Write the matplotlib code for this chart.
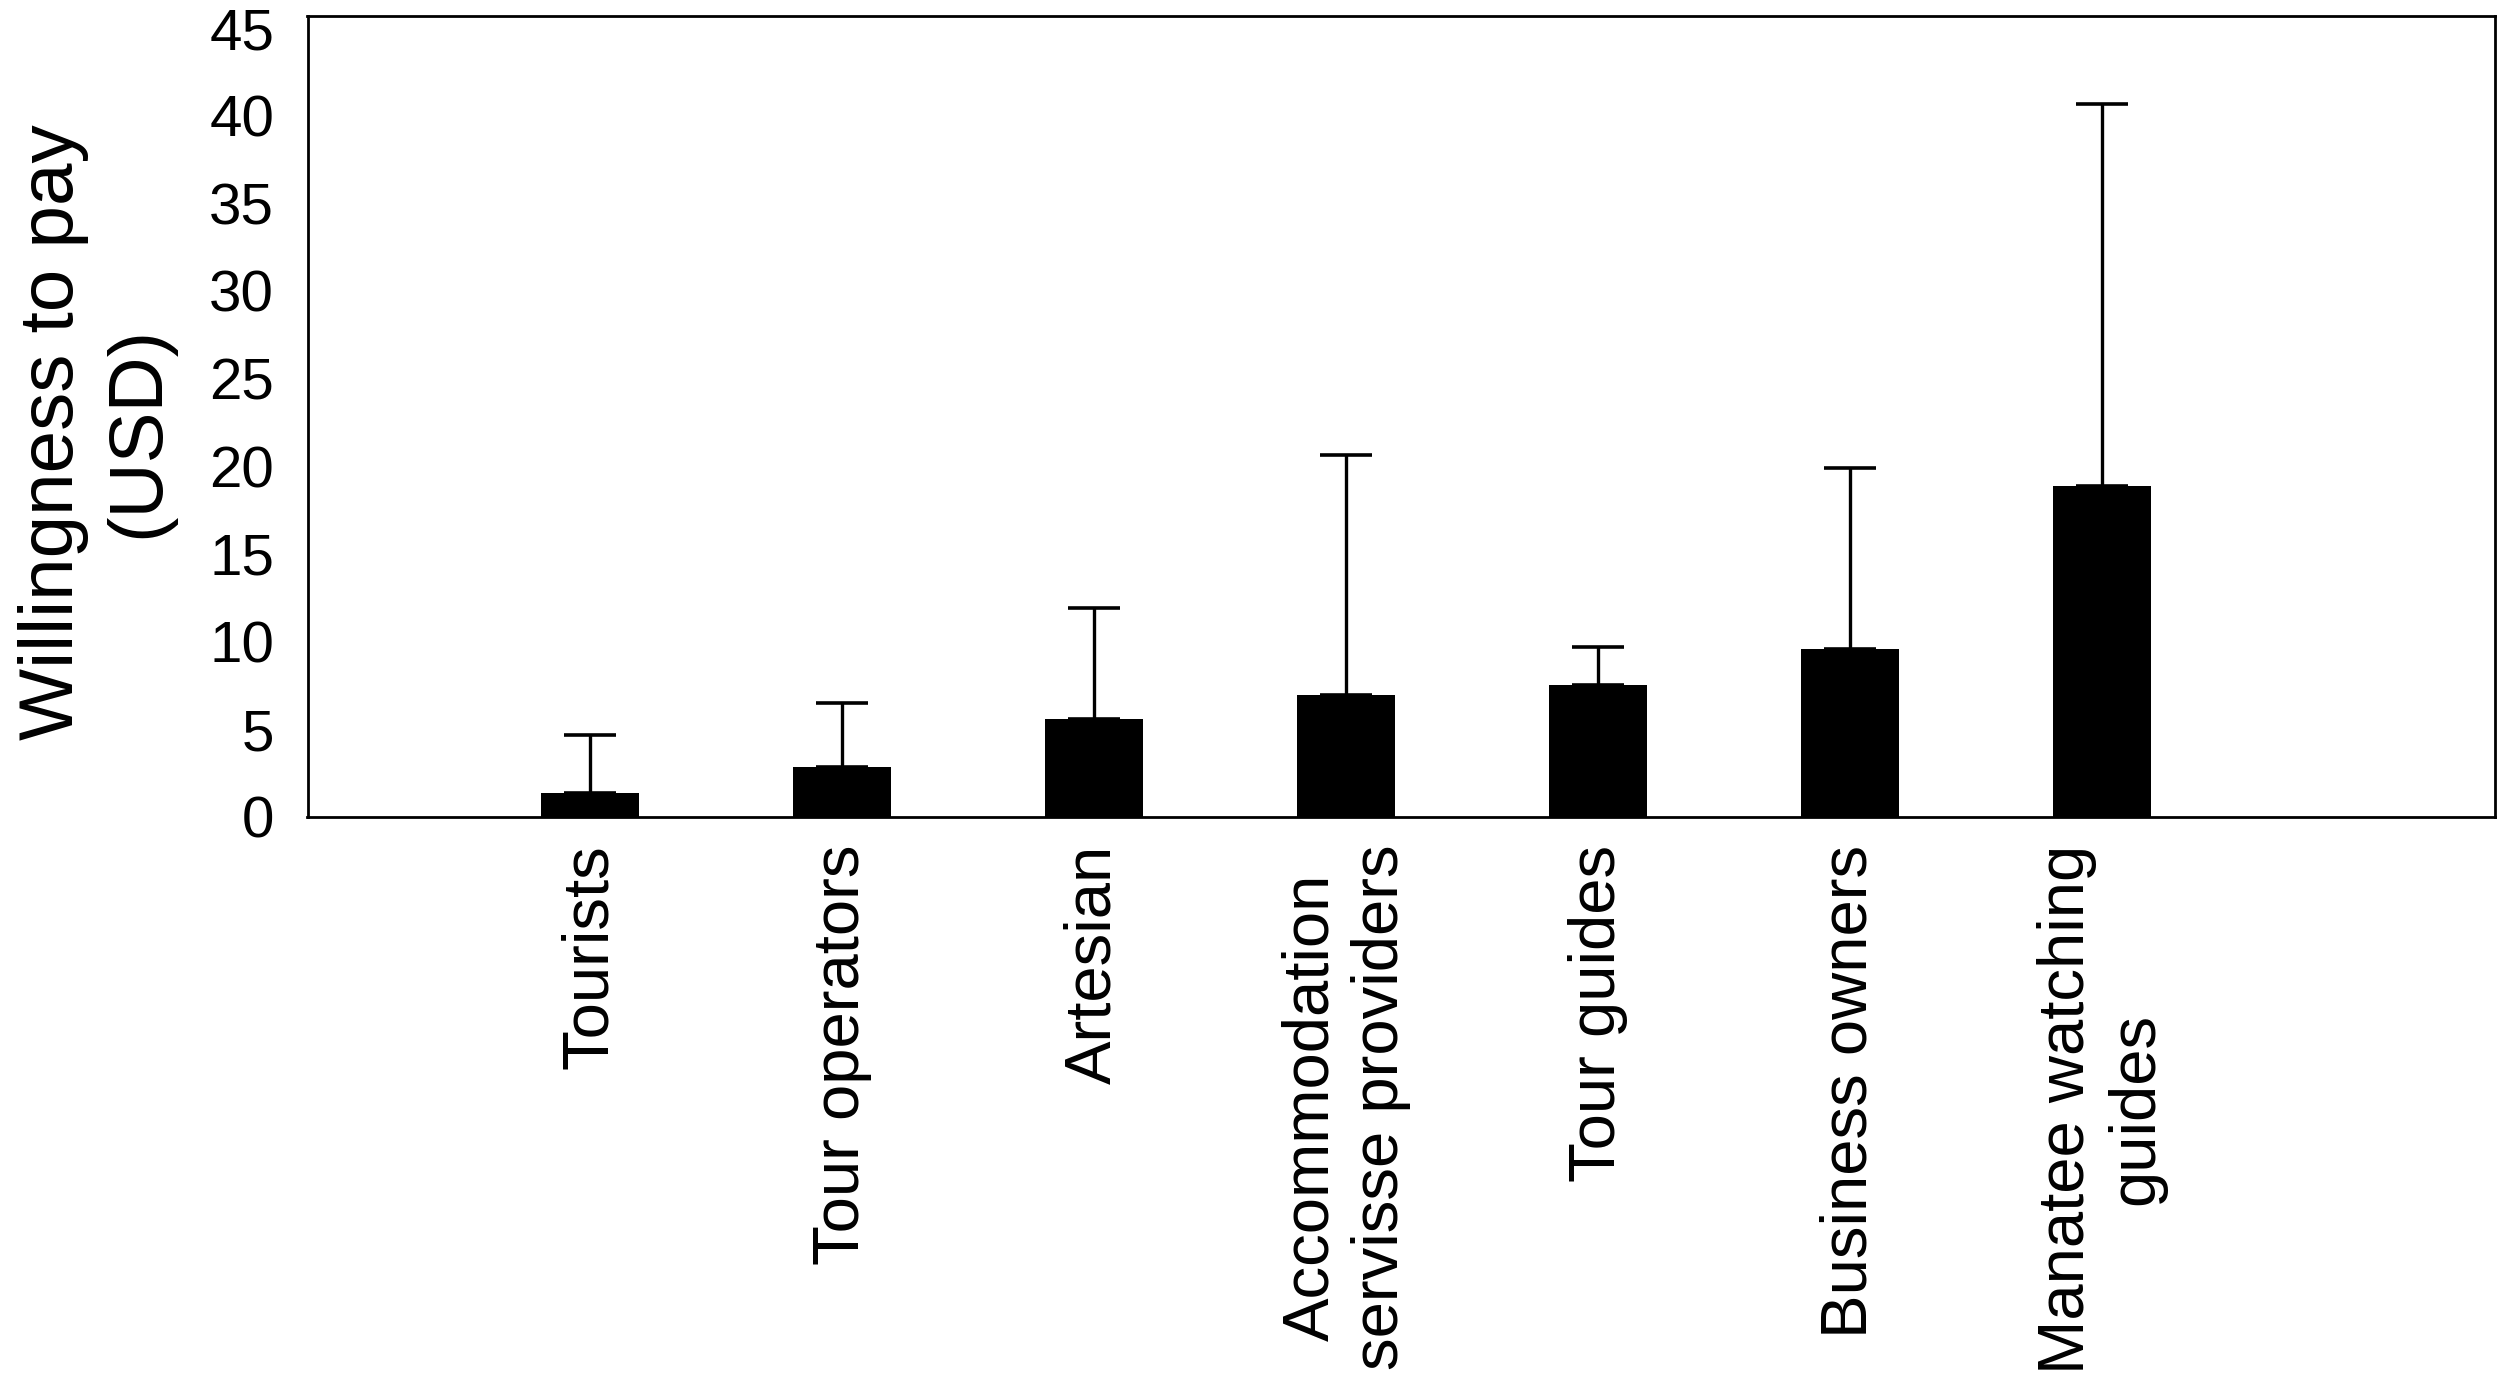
# Drittanbieter-Bibliotheken
import matplotlib
matplotlib.use("Agg")
import matplotlib.pyplot as plt
import numpy as np

# Daten
categories = ["Tourists", "Tour operators", "Artesian",
              "Accommodation\nservisse providers", "Tour guides",
              "Business owners", "Manatee watching\nguides"]
wtp_mean = [1.35, 2.85, 5.6, 6.95, 7.5, 9.55, 18.85]
wtp_upper = [4.65, 6.5, 11.9, 20.65, 9.7, 19.9, 40.65]
y_ticks = [0, 5, 10, 15, 20, 25, 30, 35, 40, 45]


def plot_wtp(output_file):
    """
        Balkendiagramm der Zahlungsbereitschaft mit oberen Fehlerbalken

        Args:
            output_file (str): Pfad der Ausgabedatei

        Returns:
            None
    """
    plt.rcParams['font.family'] = ['Liberation Sans', 'DejaVu Sans']

    fig = plt.figure(figsize=(25, 13.75), dpi=100)
    ax = fig.add_axes([0.123, 0.406, 0.875, 0.5825])

    x = np.arange(len(categories))
    mean = np.array(wtp_mean)
    err = np.array(wtp_upper) - mean

    # Fehlerbalken hinter den Balken, damit die untere Kappe verdeckt wird
    ax.errorbar(x, mean, yerr=[np.zeros_like(err), err], fmt='none',
                ecolor='black', elinewidth=2.4, capsize=18.5, capthick=2.6,
                zorder=1)
    ax.bar(x, mean, width=0.39, color='black', zorder=2)

    # Achsen einstellen
    ax.set_xlim(-1.12, 7.56)
    ax.set_ylim(0, 45.7)
    ax.set_yticks(y_ticks)
    ax.set_yticklabels([str(t) for t in y_ticks], fontsize=42)
    ax.set_xticks(x)
    ax.set_xticklabels(categories, fontsize=47, rotation=90,
                       ha='center', va='top', multialignment='center')
    ax.tick_params(axis='x', length=0, pad=20)
    ax.tick_params(axis='y', length=0, pad=24)

    # Achsenbeschriftung
    ax.set_ylabel('Willingness to pay\n(USD)', fontsize=55,
                  multialignment='center', linespacing=1.25)
    ax.yaxis.set_label_coords(-0.061, 0.48)

    # Rahmen
    for spine in ax.spines.values():
        spine.set_linewidth(2)
        spine.set_color('black')

    plt.savefig(output_file, dpi=100)


def main():
    plot_wtp("out.png")


if __name__ == '__main__':
    main()
